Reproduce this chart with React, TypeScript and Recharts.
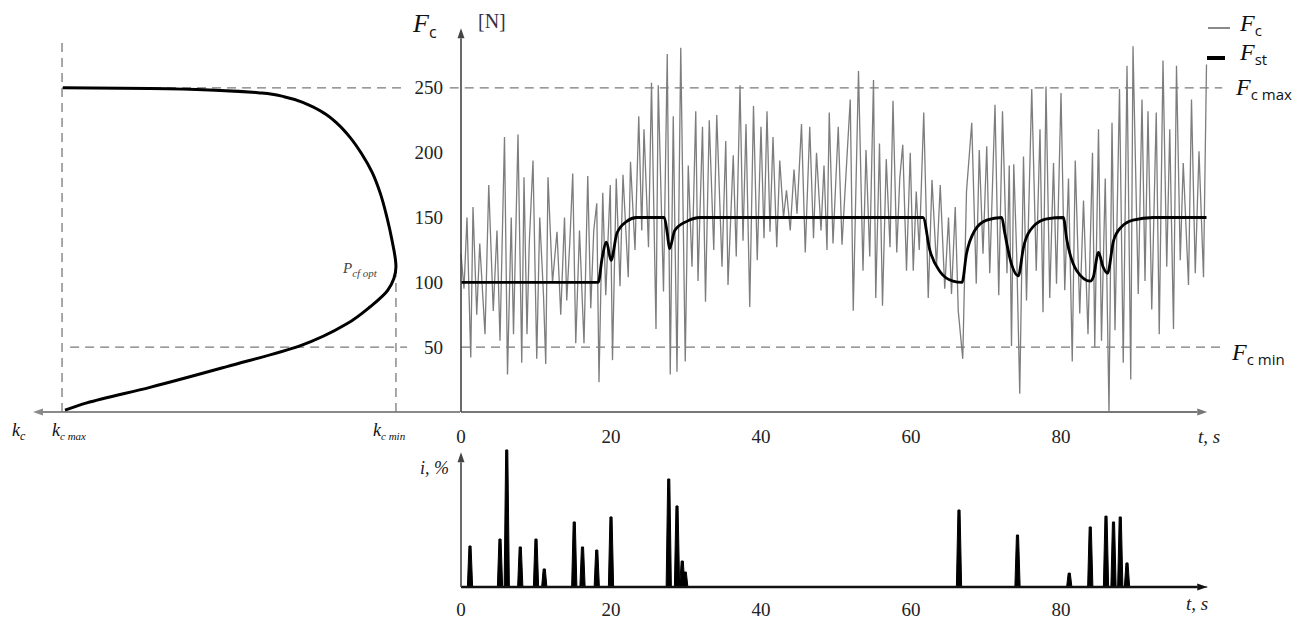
import React from 'react';
import { ComposedChart, LineChart, Line, Area, XAxis, YAxis, ReferenceLine } from 'recharts';

// t axis [s] and F axis [N]
const tTicks = [0, 20, 40, 60, 80];
const fTicks = [50, 100, 150, 200, 250];
const fcMax = 250;
const fcMin = 50;

const fcTime = [
  0, 0.4, 0.8, 1.3, 1.6, 2.1, 2.5, 2.8, 3.2, 3.7, 4.3, 4.8, 5.2, 5.8, 6.2, 6.7, 7.0, 7.6, 8.1, 8.4,
  8.8, 9.1, 9.6, 10.1, 10.5, 11.0, 11.3, 11.6, 12.2, 12.8, 13.3, 13.8, 14.1, 14.5, 14.9, 15.3, 15.8, 16.4, 16.9, 17.3,
  17.7, 18.1, 18.4, 18.9, 19.3, 19.9, 20.2, 20.7, 21.2, 21.6, 22.3, 22.6, 23.2, 23.7, 24.1, 24.4, 25.0, 25.4, 26.0, 26.3,
  27.0, 27.5, 27.9, 28.3, 28.8, 29.3, 29.9, 30.3, 30.8, 31.3, 31.6, 32.2, 32.6, 33.1, 33.7, 34.1, 34.8, 35.3, 35.6, 36.3,
  36.7, 37.2, 37.6, 38.0, 38.5, 39.0, 39.5, 40.0, 40.4, 40.8, 41.2, 41.6, 42.1, 42.5, 43.0, 43.4, 43.9, 44.4, 44.8, 45.4,
  45.9, 46.5, 47.0, 47.4, 48.0, 48.4, 48.8, 49.1, 49.6, 50.3, 50.8, 51.3, 51.9, 52.3, 53.0, 53.6, 54.0, 54.5, 55.0, 55.3,
  55.8, 56.2, 56.7, 57.2, 57.6, 58.1, 58.5, 58.9, 59.4, 59.9, 60.3, 60.7, 61.1, 61.7, 62.3, 62.8, 63.4, 63.9, 64.5, 65.0,
  65.4, 65.9, 66.3, 66.9, 67.4, 68.1, 68.7, 69.1, 69.6, 70.1, 70.5, 71.2, 71.7, 72.2, 72.8, 73.1, 73.4, 73.7, 74.1, 74.5,
  75.0, 75.4, 76.1, 76.7, 77.2, 77.6, 78.0, 78.5, 79.0, 79.4, 80.0, 80.5, 81.0, 81.5, 81.9, 82.5, 83.0, 83.6, 84.2, 84.5,
  85.0, 85.4, 85.9, 86.4, 86.8, 87.2, 87.8, 88.3, 88.8, 89.3, 89.6, 90.3, 90.8, 91.2, 91.6, 92.1, 92.7, 93.1, 93.6, 94.1,
  94.5, 95.0, 95.4, 95.9, 96.3, 97.0, 97.4, 97.9, 98.4, 99.0, 99.4,
];
const fcValue = [
  122, 95, 150, 42, 158, 75, 130, 100, 60, 175, 78, 140, 55, 212, 29, 150, 60, 214, 38, 181,
  60, 130, 194, 41, 150, 90, 37, 181, 100, 139, 75, 150, 86, 130, 184, 53, 140, 53, 182, 80,
  140, 161, 23, 169, 90, 175, 40, 180, 97, 183, 104, 193, 125, 228, 140, 218, 127, 254, 64, 252,
  93, 276, 29, 228, 31, 281, 39, 190, 112, 232, 101, 220, 85, 225, 125, 229, 112, 209, 98, 198,
  120, 252, 132, 222, 81, 236, 117, 220, 134, 232, 139, 212, 127, 194, 150, 171, 140, 187, 153, 222,
  123, 220, 134, 200, 140, 190, 125, 231, 130, 220, 129, 180, 241, 78, 263, 109, 202, 120, 256, 88,
  207, 82, 195, 127, 240, 123, 180, 206, 109, 200, 109, 170, 125, 231, 88, 179, 112, 175, 95, 150,
  91, 158, 78, 41, 170, 223, 99, 202, 122, 205, 107, 237, 90, 232, 107, 190, 51, 191, 120, 14,
  197, 86, 249, 109, 218, 77, 251, 88, 192, 99, 246, 94, 180, 39, 194, 76, 163, 60, 200, 50,
  218, 55, 180, 0, 223, 63, 249, 38, 267, 25, 282, 91, 241, 101, 232, 79, 231, 60, 271, 112,
  218, 64, 267, 117, 192, 98, 241, 107, 201, 104, 268,
];

// stabilised force F_st
const fstTime = [
  0, 18.3, 18.8, 19.4, 20.0, 20.8, 22.1, 23.4, 27.1, 27.5, 27.8, 28.5, 30.1, 31.9, 61.6, 62.5, 63.9, 65.6, 66.8, 67.4,
  68.5, 70.1, 72.1, 72.5, 73.4, 74.3, 75.0, 76.3, 78.1, 80.3, 80.8, 82.1, 83.9, 84.3, 85.0, 85.6, 86.2, 87.0, 88.1, 89.6,
  92.3, 99.4,
];
const fstValue = [
  100, 100, 118, 131, 117, 138, 147, 150, 150, 138, 126, 140, 147, 150, 150, 125, 108, 101, 100, 122,
  140, 148, 150, 138, 114, 105, 127, 143, 149, 150, 132, 109, 101, 104, 123, 112, 107, 132, 143, 148,
  150, 150,
];

// corrections i, %
const iTime = [1.2, 5.2, 6.1, 7.9, 10.0, 11.1, 15.1, 16.2, 18.1, 20.0, 27.7, 28.8, 29.5, 29.9, 66.4, 74.2, 81.1, 83.9, 86.0, 87.0, 87.9, 88.8];
const iValue = [29.5, 34.5, 98.6, 28.8, 34.5, 13, 46.8, 28.8, 26.6, 50.4, 77.7, 58.3, 18.7, 10.8, 55.4, 37.4, 10, 43.2, 51, 46.8, 50.4, 17.3];

// k_c(F_c) curve of the left panel, k runs leftwards
const curveForce = [250, 249.5, 248, 246, 243, 238, 230, 222, 212, 199, 185, 169, 150, 132, 112, 94, 81, 68, 51, 35, 19, 7, 1.5];
const curveK = [0.93, 0.726, 0.562, 0.464, 0.41, 0.363, 0.316, 0.286, 0.258, 0.23, 0.206, 0.187, 0.171, 0.159, 0.15, 0.169, 0.211, 0.265, 0.375, 0.546, 0.726, 0.874, 0.925];
const kcMax = 0.932;
const kcMin = 0.15;

const fcData = fcTime.map((t, n) => ({ t, F: fcValue[n] }));
const fstData = fstTime.map((t, n) => ({ t, F: fstValue[n] }));
const curveData = curveK.map((k, n) => ({ k, F: curveForce[n] }));
const spikeData = (() => {
  const pts = [{ t: 0, i: 0 }];
  iTime.forEach((t, n) => {
    pts.push({ t: t - 0.35, i: 0 }, { t: t - 0.14, i: iValue[n] }, { t: t + 0.14, i: iValue[n] }, { t: t + 0.35, i: 0 });
  });
  pts.push({ t: 99.5, i: 0 });
  return pts;
})();

const serif = '"Liberation Serif", "Times New Roman", serif';
const sans = '"Open Sans", "Liberation Sans", sans-serif';
const tickFont = { fontFamily: serif, fontSize: 19 };

const xTick = (p: any) => (
  <text x={p.x} y={p.y} dy={14} textAnchor="middle" fill="#222" style={tickFont}>
    {p.payload.value}
  </text>
);
const yTick = (p: any) => (
  <text x={p.x} y={p.y} dy={6.5} textAnchor="end" fill="#222" style={tickFont}>
    {p.payload.value}
  </text>
);

// axis line with an arrow head at its second point
function arrow(color: string, width: number) {
  return (p: any) => {
    const { x1, y1, x2, y2 } = p;
    const a = Math.atan2(y2 - y1, x2 - x1);
    const bx = x2 - 10 * Math.cos(a);
    const by = y2 - 10 * Math.sin(a);
    const px = -Math.sin(a) * 3.5;
    const py = Math.cos(a) * 3.5;
    return (
      <g>
        <line x1={x1} y1={y1} x2={bx} y2={by} stroke={color} strokeWidth={width} />
        <polygon points={`${x2},${y2} ${bx + px},${by + py} ${bx - px},${by - py}`} fill={color} />
      </g>
    );
  };
}

const dash = { stroke: '#7a7a7a', strokeWidth: 1.3, strokeDasharray: '9 6', ifOverflow: 'visible' as const };

function Sym({ x, y, main, sub, size = 26, subSize = 16, color = '#111', subSerif = false }: any) {
  return (
    <div style={{ position: 'absolute', left: x, top: y, lineHeight: 1, whiteSpace: 'nowrap', color }}>
      <span style={{ fontFamily: serif, fontStyle: 'italic', fontSize: size }}>{main}</span>
      <span
        style={{
          fontFamily: subSerif ? serif : sans,
          fontStyle: subSerif ? 'italic' : 'normal',
          fontSize: subSize,
          position: 'relative',
          top: subSize * 0.35,
        }}
      >
        {sub}
      </span>
    </div>
  );
}

function Txt({ x, y, size = 19, italic = true, children, color = '#222' }: any) {
  return (
    <div style={{ position: 'absolute', left: x, top: y, lineHeight: 1, whiteSpace: 'nowrap', fontFamily: serif, fontStyle: italic ? 'italic' : 'normal', fontSize: size, color }}>
      {children}
    </div>
  );
}

export default function App() {
  return (
    <div style={{ position: 'absolute', left: 0, top: 0, width: 1312, height: 621, background: '#fff', overflow: 'hidden' }}>
      {/* left panel: k_c against F_c */}
      <div style={{ position: 'absolute', left: 0, top: 0 }}>
        <LineChart width={470} height={460} data={curveData} margin={{ top: 23, right: 10, bottom: 48, left: 33 }}>
          <XAxis type="number" dataKey="k" domain={[0, 1]} reversed hide />
          <YAxis type="number" domain={[0, 300]} hide />
          <ReferenceLine segment={[{ x: 0, y: 0 }, { x: 1, y: 0 }]} ifOverflow="visible" shape={arrow('#8a8a8a', 2)} />
          <ReferenceLine segment={[{ x: kcMax, y: 0 }, { x: kcMax, y: 288 }]} {...dash} />
          <ReferenceLine segment={[{ x: kcMin, y: 0 }, { x: kcMin, y: 105 }]} {...dash} />
          <ReferenceLine segment={[{ x: kcMax, y: fcMax }, { x: 0.124, y: fcMax }]} {...dash} />
          <ReferenceLine segment={[{ x: 0.913, y: fcMin }, { x: 0.124, y: fcMin }]} {...dash} />
          <Line dataKey="F" type="monotoneY" stroke="#000" strokeWidth={3} dot={false} isAnimationActive={false} />
        </LineChart>
      </div>

      {/* main panel: F_c and F_st against t */}
      <div style={{ position: 'absolute', left: 0, top: 0 }}>
        <ComposedChart width={1312} height={460} margin={{ top: 23, right: 101, bottom: 18, left: 401 }}>
          <XAxis type="number" dataKey="t" domain={[0, 100]} ticks={tTicks} axisLine={false} tickLine={false} tickSize={0} tickMargin={17} height={30} tick={xTick} />
          <YAxis type="number" domain={[0, 300]} ticks={fTicks} axisLine={false} tickLine={false} tickSize={0} tickMargin={18} width={60} tick={yTick} />
          <ReferenceLine segment={[{ x: -1.5, y: fcMax }, { x: 101.5, y: fcMax }]} {...dash} />
          <ReferenceLine segment={[{ x: 0, y: fcMin }, { x: 101.5, y: fcMin }]} {...dash} />
          <Line data={fcData} dataKey="F" type="linear" stroke="#7d7d7d" strokeWidth={1.3} dot={false} isAnimationActive={false} />
          <Line data={fstData} dataKey="F" type="monotone" stroke="#000" strokeWidth={2.8} dot={false} isAnimationActive={false} />
          <ReferenceLine segment={[{ x: 0, y: 0 }, { x: 99.5, y: 0 }]} ifOverflow="visible" shape={arrow('#777', 2)} />
          <ReferenceLine segment={[{ x: 0, y: 0 }, { x: 0, y: 296 }]} ifOverflow="visible" shape={arrow('#444', 1.6)} />
        </ComposedChart>
      </div>

      {/* bottom panel: i, % against t */}
      <div style={{ position: 'absolute', left: 0, top: 420 }}>
        <ComposedChart width={1312} height={201} data={spikeData} margin={{ top: 28, right: 101, bottom: 4, left: 461 }}>
          <XAxis type="number" dataKey="t" domain={[0, 100]} ticks={tTicks} axisLine={false} tickLine={false} tickSize={0} tickMargin={15} height={30} tick={xTick} />
          <YAxis type="number" domain={[0, 100]} hide />
          <Area dataKey="i" type="linear" stroke="#000" strokeWidth={1} fill="#000" fillOpacity={1} dot={false} isAnimationActive={false} />
          <ReferenceLine segment={[{ x: 0, y: 0 }, { x: 99.5, y: 0 }]} ifOverflow="visible" shape={arrow('#111', 2.4)} />
          <ReferenceLine segment={[{ x: 0, y: 0 }, { x: 0, y: 97 }]} ifOverflow="visible" shape={arrow('#444', 1.6)} />
        </ComposedChart>
      </div>

      {/* axis titles */}
      <Sym x={413} y={11} main="F" sub="c" />
      <Txt x={478} y={11} size={20} italic={false} color="#3a3044">[N]</Txt>
      <Txt x={1198} y={427}>t, s</Txt>
      <Txt x={1186} y={594}>t, s</Txt>
      <Txt x={420} y={459} size={18}>i, %</Txt>

      {/* left panel labels */}
      <Sym x={12} y={421} main="k" sub="c" size={18} subSize={12} subSerif />
      <Sym x={52} y={421} main="k" sub="c max" size={18} subSize={11} subSerif />
      <Sym x={373} y={421} main="k" sub="c min" size={18} subSize={11} subSerif />
      <Sym x={343} y={260} main="P" sub="cf opt" size={15} subSize={11} color="#444" subSerif />

      {/* limit labels */}
      <Sym x={1236} y={75} main="F" sub="c max" size={24} subSize={15} />
      <Sym x={1232} y={340} main="F" sub="c min" size={24} subSize={15} />

      {/* legend */}
      <div style={{ position: 'absolute', left: 1208, top: 27, width: 22, height: 2, background: '#8a8a8a' }} />
      <Sym x={1240} y={11} main="F" sub="c" size={24} subSize={15} />
      <div style={{ position: 'absolute', left: 1207, top: 56, width: 18, height: 4, background: '#000' }} />
      <Sym x={1240} y={40} main="F" sub="st" size={24} subSize={15} />
    </div>
  );
}
